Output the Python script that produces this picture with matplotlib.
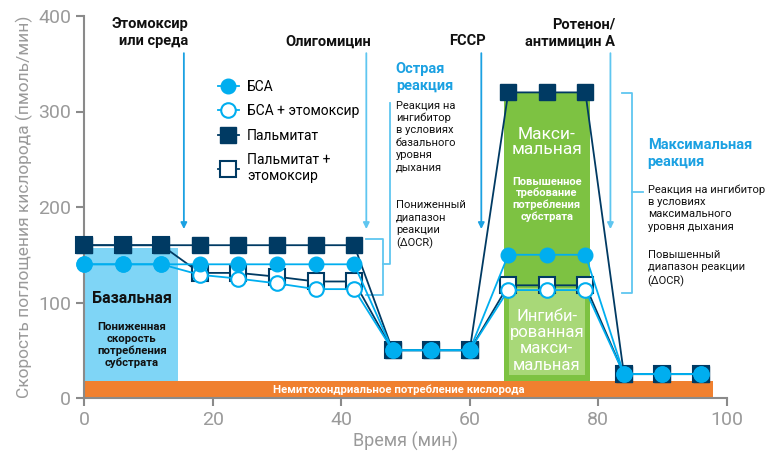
import matplotlib
matplotlib.use("Agg")
import matplotlib.pyplot as plt
from matplotlib.lines import Line2D
from matplotlib.patches import Rectangle

plt.rcParams['font.family'] = ['Roboto', 'DejaVu Sans']

# ---- data ----
time = [0, 6, 12, 18, 24, 30, 36, 42, 48, 54, 60, 66, 72, 78, 84, 90, 96]
bsa = [140, 140, 140, 140, 140, 140, 140, 140, 50, 50, 50, 150, 150, 150, 25, 25, 25]
bsa_eto = [140, 140, 140, 129, 125, 120, 114, 114, 50, 50, 50, 113, 113, 113, 25, 25, 25]
palm = [160, 160, 160, 160, 160, 160, 160, 160, 50, 50, 50, 320, 320, 320, 25, 25, 25]
palm_eto = [160, 160, 160, 131, 131, 127, 122, 122, 50, 50, 50, 118, 118, 118, 25, 25, 25]
series_labels = ["БСА", "БСА + этомоксир", "Пальмитат", "Пальмитат +\nэтомоксир"]
xticks = [0, 20, 40, 60, 80, 100]
yticks = [0, 100, 200, 300, 400]
injections = [(15.5, "Этомоксир\nили среда"), (43.9, "Олигомицин"),
              (61.8, "FCCP"), (81.9, "Ротенон/\nантимицин А")]

CYAN = "#00aeef"
NAVY = "#003a63"
LBLUE = "#5fc6f0"
GRAY = "#9a9a9a"

fig = plt.figure(figsize=(7.67, 4.55), dpi=100)
ax = fig.add_axes([84.3 / 767, 57 / 455, 642.4 / 767, 382 / 455])
ax.set_xlim(0, 100)
ax.set_ylim(0, 400)

# background regions
ax.add_patch(Rectangle((0, 0), 97.8, 18, color="#f0802f", zorder=1, lw=0))
ax.text(48.9, 9, "Немитохондриальное потребление кислорода", color="white",
        fontsize=8.2, fontweight="bold", ha="center", va="center", zorder=2)
ax.add_patch(Rectangle((0, 18), 14.6, 139, color="#7fd5f6", zorder=1, lw=0))
ax.add_patch(Rectangle((65.3, 18), 13.4, 302, color="#7dc242", zorder=1, lw=0))
ax.add_patch(Rectangle((66.1, 24), 11.8, 91, color="#a8d878", zorder=1, lw=0))

ax.text(7.4, 104, "Базальная", fontsize=11.5, fontweight="bold", ha="center", va="center", color="#111111")
ax.text(7.4, 55, "Пониженная\nскорость\nпотребления\nсубстрата", fontsize=8.2, fontweight="bold",
        ha="center", va="center", color="#111111", linespacing=1.2)
ax.text(72.0, 268, "Макси-\nмальная", fontsize=12.5, ha="center", va="center", color="white", linespacing=1.05)
ax.text(72.0, 208, "Повышенное\nтребование\nпотребления\nсубстрата", fontsize=8, fontweight="bold",
        ha="center", va="center", color="white", linespacing=1.15)
ax.text(72.0, 60, "Ингиби-\nрованная\nмакси-\nмальная", fontsize=12, ha="center", va="center",
        color="white", linespacing=1.1)

# data series
ms_c, ms_s = 10.5, 11
ax.plot(time, palm_eto, color=NAVY, lw=1.3, marker="s", ms=ms_s, mfc="white", mec=NAVY, mew=1.5,
        zorder=4, clip_on=False)
ax.plot(time, palm, color=NAVY, lw=1.3, marker="s", ms=ms_s, mfc=NAVY, mec=NAVY, zorder=5, clip_on=False)
ax.plot(time, bsa_eto, color=CYAN, lw=1.3, marker="o", ms=ms_c, mfc="white", mec=CYAN, mew=1.5,
        zorder=6, clip_on=False)
ax.plot(time, bsa, color=CYAN, lw=1.3, marker="o", ms=ms_c, mfc=CYAN, mec=CYAN, zorder=7, clip_on=False)

# injection arrows and labels
for i, (x, lab) in enumerate(injections):
    col = "#1ba1e2" if i in (0, 2) else LBLUE
    ax.annotate("", xy=(x, 174), xytext=(x, 364),
                arrowprops=dict(arrowstyle="-|>", color=col, lw=1.3, mutation_scale=9), zorder=3)
    ax.text(x + 0.7, 366, lab, fontsize=10.5, fontweight="bold", ha="right", va="bottom",
            color="#111111", linespacing=1.3)

# brackets
bk = dict(color=LBLUE, lw=1.3, zorder=3, clip_on=False)
ax.plot([43.8, 46.5, 46.5, 43.8], [166.5, 166.5, 108, 108], **bk)
ax.plot([46.5, 47.6, 47.6], [140, 140, 309], **bk)
ax.plot([83.7, 85.3, 85.3, 83.7], [319, 319, 110, 110], **bk)
ax.plot([85.3, 87.0], [216, 216], **bk)

ax.text(48.5, 352, "Острая\nреакция", fontsize=10.5, fontweight="bold", color="#1ba1e2",
        ha="left", va="top", linespacing=1.25)
ax.text(48.5, 312, "Реакция на\nингибитор\nв условиях\nбазального\nуровня\nдыхания", fontsize=8,
        color="#111111", ha="left", va="top", linespacing=1.3)
ax.text(48.5, 207, "Пониженный\nдиапазон\nреакции\n(ΔOCR)", fontsize=8,
        color="#111111", ha="left", va="top", linespacing=1.3)
ax.text(87.7, 272, "Максимальная\nреакция", fontsize=10.5, fontweight="bold", color="#1ba1e2",
        ha="left", va="top", linespacing=1.25)
ax.text(87.7, 224, "Реакция на ингибитор\nв условиях\nмаксимального\nуровня дыхания", fontsize=8,
        color="#111111", ha="left", va="top", linespacing=1.3)
ax.text(87.7, 155, "Повышенный\nдиапазон реакции\n(ΔOCR)", fontsize=8,
        color="#111111", ha="left", va="top", linespacing=1.3)

# axes styling
for s in ("top", "right"):
    ax.spines[s].set_visible(False)
for s in ("left", "bottom"):
    ax.spines[s].set_color("#8a8a8a")
    ax.spines[s].set_linewidth(1.5)
ax.set_xticks(xticks)
ax.set_yticks(yticks)
ax.tick_params(colors="#8a8a8a", labelcolor=GRAY, labelsize=14, length=6, width=1.5)
ax.set_xlabel("Время (мин)", fontsize=13, color=GRAY, labelpad=2)
ax.set_ylabel("Скорость поглощения кислорода (пмоль/мин)", fontsize=12.5, color=GRAY, labelpad=4)

# legend
handles = [
    Line2D([], [], color=CYAN, lw=1.3, marker="o", ms=ms_c, mfc=CYAN, mec=CYAN),
    Line2D([], [], color=CYAN, lw=1.3, marker="o", ms=ms_c, mfc="white", mec=CYAN, mew=1.5),
    Line2D([], [], color=NAVY, lw=1.3, marker="s", ms=ms_s, mfc=NAVY, mec=NAVY),
    Line2D([], [], color=NAVY, lw=1.3, marker="s", ms=ms_s, mfc="white", mec=NAVY, mew=1.5),
]
ax.legend(handles, series_labels, loc="upper left", bbox_to_anchor=(208 / 767, 1 - 70 / 455),
          bbox_transform=fig.transFigure, frameon=False, fontsize=10, handlelength=1.5,
          handletextpad=0.6, labelspacing=0.75, borderpad=0.2)

fig.savefig("out.png", dpi=100)
